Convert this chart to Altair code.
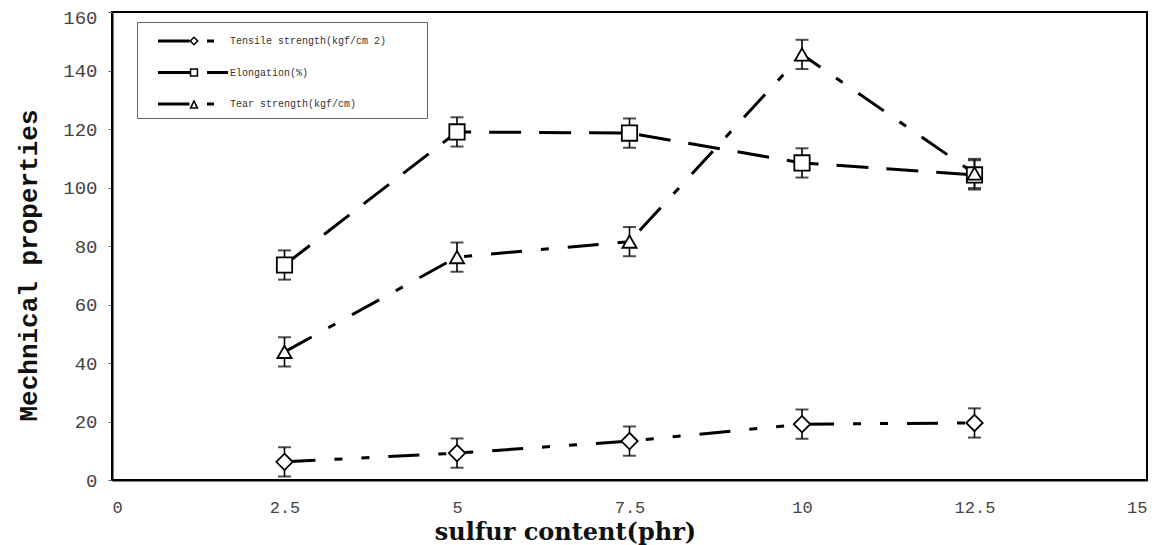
import altair as alt
import pandas as pd

# ---- data ----
sulfur = [2.5, 5, 7.5, 10, 12.5]
series_names = ["Tensile strength(kgf/cm 2)", "Elongation(%)", "Tear strength(kgf/cm)"]
tensile = [6.2, 9.2, 13.3, 19.1, 19.5]
elongation = [73.5, 119.0, 118.6, 108.4, 104.3]
tear = [43.8, 76.2, 81.5, 145.5, 104.8]
tensile_err = [5, 5, 5, 5, 5]
elongation_err = [5, 5, 5, 5, 5]
tear_err = [5, 5, 5, 5, 5]
x_ticks = [0, 2.5, 5, 7.5, 10, 12.5, 15]
y_ticks = [0, 20, 40, 60, 80, 100, 120, 140, 160]

rows = []
for name, vals, errs in zip(series_names, [tensile, elongation, tear],
                            [tensile_err, elongation_err, tear_err]):
    for xv, v, e in zip(sulfur, vals, errs):
        rows.append({"series": name, "sulfur": xv, "value": v, "lo": v - e, "hi": v + e})
df = pd.DataFrame(rows)


# ---- legend symbol paths (line + hollow marker + dash), unit = 1/10 of 20px symbol ----
def rect(x0, x1, h=0.16):
    return f"M{x0},{-h}H{x1}V{h}H{x0}Z"


def diamond(cx, a, t):
    b = a - t * 1.41
    return (f"M{cx},{-a}L{cx + a},0L{cx},{a}L{cx - a},0Z"
            f"M{cx},{-b}L{cx - b},0L{cx},{b}L{cx + b},0Z")


def square(cx, a, t):
    b = a - t
    return (f"M{cx - a},{-a}H{cx + a}V{a}H{cx - a}Z"
            f"M{cx - b},{-b}V{b}H{cx + b}V{-b}Z")


def triangle(cx, a, t):
    return (f"M{cx},{-a}L{cx + a},{a}L{cx - a},{a}Z"
            f"M{cx},{-a + 2.2 * t}L{cx - a + 1.8 * t},{a - t}L{cx + a - 1.8 * t},{a - t}Z")


# an empty move-to far right widens the legend box without drawing anything
box_pad = "M23.1,0"
legend_paths = [
    rect(-2.9, 0.25) + diamond(0.7, 0.48, 0.15) + rect(2.0, 2.7) + box_pad,
    rect(-2.9, 0.3) + square(0.7, 0.42, 0.15) + rect(2.0, 4.1) + box_pad,
    rect(-2.9, 0.25) + triangle(0.7, 0.47, 0.15) + rect(2.0, 2.7) + box_pad,
]

x_enc = alt.X(
    "sulfur:Q",
    scale=alt.Scale(domain=[0, 15], nice=False, zero=False),
    title="sulfur content(phr)",
    axis=alt.Axis(
        values=x_ticks, format="~g", grid=False, ticks=False, labelPadding=19,
        labelFont="Liberation Mono", labelFontSize=17, labelColor="#444",
        domainColor="black", domainWidth=2,
        titleFont="DejaVu Serif", titleFontSize=24, titleFontWeight="bold",
        titleColor="#111", titleX=453, titleY=52, titleAlign="center",
        titleBaseline="middle",
    ),
)


def y_enc(field):
    return alt.Y(
        f"{field}:Q",
        scale=alt.Scale(domain=[0, 160], nice=False),
        title="Mechnical properties",
        axis=alt.Axis(
            values=y_ticks, grid=False, tickSize=4, tickColor="#666",
            labelPadding=11, labelFont="Liberation Mono", labelFontSize=19,
            labelColor="#444", domainColor="black", domainWidth=2,
            labelOffset={"condition": {"test": "datum.value == 160", "value": 5}, "value": 0},
            titleFont="Liberation Mono", titleFontSize=26, titleFontWeight="bold",
            titleColor="#111", titleX=-84, titleY=253, titleAngle=270,
            titleAlign="center", titleBaseline="middle",
        ),
    )


base = alt.Chart(df)

lines = base.mark_line(color="black", strokeWidth=3).encode(
    x=x_enc,
    y=y_enc("value"),
    strokeDash=alt.StrokeDash(
        "series:N",
        scale=alt.Scale(domain=series_names,
                        range=[[31, 19, 8, 19, 8, 19], [32, 18], [31, 19, 8, 19]]),
        legend=None,
    ),
)

err_rules = base.mark_rule(color="black", strokeWidth=1.6).encode(
    x="sulfur:Q", y=y_enc("lo"), y2="hi:Q"
)
caps_lo = base.mark_tick(orient="horizontal", size=13, thickness=2, color="black").encode(
    x="sulfur:Q", y=y_enc("lo")
)
caps_hi = base.mark_tick(orient="horizontal", size=13, thickness=2, color="black").encode(
    x="sulfur:Q", y=y_enc("hi")
)

points = base.mark_point(filled=True, fill="white", stroke="black", strokeWidth=1.8,
                         opacity=1).encode(
    x="sulfur:Q",
    y=y_enc("value"),
    shape=alt.Shape("series:N",
                    scale=alt.Scale(domain=series_names,
                                    range=["diamond", "square", "triangle-up"]),
                    legend=None),
    size=alt.Size("series:N",
                  scale=alt.Scale(domain=series_names, range=[270, 200, 250]),
                  legend=None),
)

legend_layer = base.mark_point(filled=True, color="black", opacity=0, size=1).encode(
    x="sulfur:Q",
    y=y_enc("value"),
    shape=alt.Shape(
        "series:N",
        scale=alt.Scale(domain=series_names, range=legend_paths),
        legend=alt.Legend(
            title=None, orient="none", legendX=25, legendY=10,
            strokeColor="#666", fillColor="white", padding=9,
            symbolSize=400, symbolOffset=31, labelOffset=33,
            symbolOpacity=1, symbolFillColor="black", symbolStrokeColor="black",
            symbolStrokeWidth=0, rowPadding=16.5,
            labelFont="Liberation Mono", labelFontSize=10, labelColor="#333",
            labelLimit=500,
        ),
    ),
)

chart = (
    alt.layer(lines, err_rules, caps_lo, caps_hi, points, legend_layer)
    .resolve_scale(shape="independent", size="independent")
    .properties(
        width=1035, height=468,
        autosize=alt.AutoSizeParams(type="none"),
        padding={"left": 104, "top": 4, "right": 4, "bottom": 75},
        background="white",
    )
    .configure_view(stroke="black", strokeWidth=2)
)

chart.save("out.html", embed_options={"renderer": "svg", "actions": False})
